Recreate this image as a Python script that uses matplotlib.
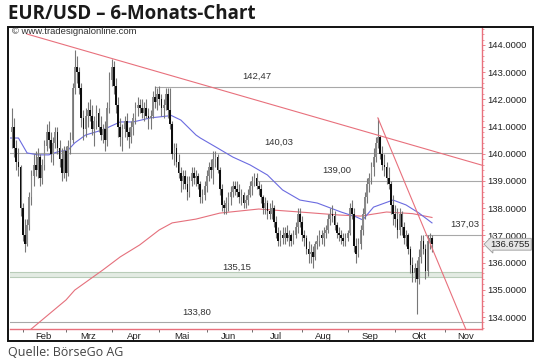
import matplotlib
matplotlib.use('Agg')
import matplotlib.pyplot as plt
import numpy as np
import pandas as pd
from matplotlib import font_manager
from matplotlib.patches import Rectangle

# ---------------- data ----------------
start_date, end_date = '2014-01-27', '2014-10-24'
axis_end = '2014-12-31'

open_ = [140.8, 141.0, 140.2, 139.7, 139.5,
         138.0, 137.0, 136.7, 137.4, 138.4, 139.2, 139.6, 139.4, 139.9, 139.1,
         139.6, 140.3, 140.8, 140.5, 140.0, 140.4, 140.8, 140.2, 139.8, 139.3,
         140.1, 139.3, 140.3, 140.5, 142.4, 143.2, 143.0, 142.4, 141.3, 140.9,
         141.4, 141.6, 141.4, 140.9, 141.2, 141.5, 141.0, 140.7, 140.9, 140.5, 141.7,
         142.7, 143.2, 142.5, 141.8, 141.0, 140.6, 140.9, 141.2, 140.8, 140.6, 141.0,
         141.3, 141.7, 141.8, 141.7, 141.5, 141.7, 141.4, 141.3, 141.4, 142.1, 141.9,
         142.2, 142.0, 141.7, 141.8, 142.2, 141.6, 141.1, 140.0, 140.2, 139.7, 139.3,
         139.0, 139.2, 138.9, 138.6, 139.0, 139.3, 139.1, 139.2, 138.9, 138.4, 138.5,
         138.8, 139.2, 139.5, 139.4, 139.8, 139.9, 139.4, 138.7, 138.1, 138.0, 138.2,
         138.4, 138.6, 138.8, 138.7, 138.6, 138.4, 138.5, 138.2, 138.3, 138.5,
         138.8, 139.0, 139.1, 138.8, 138.7, 138.4, 138.0, 138.2, 137.9, 137.8, 138.0,
         137.5, 137.1, 136.8, 137.0, 136.9, 137.1, 136.9, 137.0, 136.8, 137.0, 137.3,
         137.8, 137.5, 137.0, 136.9, 136.5, 136.3, 136.4, 136.2, 136.7, 136.8, 137.0,
         136.9, 137.1, 137.2, 137.6, 137.8, 137.7, 137.4, 137.1, 137.0, 136.9, 136.8,
         136.9, 137.1, 138.0, 137.8, 136.6, 136.3, 136.7, 137.2, 137.8, 138.4, 138.9,
         139.1, 139.5, 139.9, 140.4, 140.6, 140.0, 139.6, 139.5, 139.1, 138.9, 138.1,
         137.8, 137.6, 137.2, 137.8, 137.3, 136.9, 137.0, 136.5, 135.9, 135.6, 135.8,
         135.4, 136.2, 136.8, 136.5, 135.7, 136.8, 136.9]
high_ = [141.7, 141.3, 140.5, 140.2, 139.6,
         138.2, 137.6, 137.6, 138.6, 139.4, 140.0, 140.1, 140.2, 140.0, 139.8,
         140.5, 141.1, 141.2, 140.8, 140.6, 141.0, 141.0, 140.5, 140.2, 140.3,
         140.3, 140.5, 140.8, 142.6, 143.8, 143.6, 143.2, 142.6, 141.6, 141.7,
         141.9, 142.0, 141.8, 141.4, 141.8, 141.7, 141.4, 141.1, 141.2, 141.9, 143.0,
         143.5, 143.4, 142.8, 142.1, 141.3, 141.1, 141.4, 141.5, 141.0, 141.2, 141.5,
         141.9, 142.1, 142.0, 142.0, 141.9, 142.0, 141.7, 141.6, 142.3, 142.5, 142.4,
         142.5, 142.2, 142.0, 142.4, 142.4, 142.4, 141.2, 140.4, 140.4, 140.0, 139.5,
         139.4, 139.4, 139.2, 139.2, 139.5, 139.5, 139.4, 139.3, 139.0, 138.7, 139.0,
         139.4, 139.7, 139.8, 140.1, 140.1, 140.0, 139.5, 138.9, 138.3, 138.4, 138.6,
         138.8, 139.0, 139.0, 139.0, 138.9, 138.7, 138.6, 138.5, 138.7, 139.0,
         139.2, 139.3, 139.3, 139.0, 138.9, 138.5, 138.4, 138.3, 138.2, 138.3, 138.1,
         137.7, 137.3, 137.2, 137.3, 137.3, 137.4, 137.2, 137.1, 137.2, 137.5, 138.0,
         138.0, 137.7, 137.2, 137.0, 136.8, 136.7, 136.6, 136.8, 137.0, 137.2, 137.2,
         137.3, 137.4, 137.8, 138.0, 138.1, 137.9, 137.5, 137.3, 137.2, 137.1, 137.1,
         137.2, 138.2, 138.3, 138.0, 136.9, 136.9, 137.4, 138.0, 138.6, 139.1, 139.3,
         139.7, 140.2, 140.6, 141.3, 140.7, 140.3, 140.0, 139.7, 139.5, 139.0, 138.5,
         138.1, 138.0, 138.0, 137.9, 137.5, 137.2, 137.1, 136.6, 136.2, 136.0, 136.1,
         136.5, 137.0, 137.0, 136.7, 137.0, 137.1, 137.0]
low_ = [140.2, 139.9, 139.4, 139.2, 137.7,
        136.8, 136.4, 136.6, 137.2, 138.1, 138.8, 139.2, 139.1, 138.8, 138.9,
        139.4, 140.1, 140.2, 139.7, 139.6, 140.2, 140.0, 139.5, 139.0, 139.1,
        139.0, 139.2, 140.0, 140.4, 142.2, 142.6, 142.2, 141.0, 140.5, 140.6,
        141.0, 141.2, 140.7, 140.3, 140.9, 140.8, 140.5, 140.4, 140.1, 140.3, 141.5,
        142.5, 142.2, 141.5, 140.6, 140.3, 140.1, 140.6, 140.5, 140.2, 140.4, 140.7,
        141.1, 141.4, 141.5, 141.3, 141.2, 141.3, 140.9, 140.9, 141.3, 141.7, 141.6,
        141.8, 141.4, 141.3, 141.6, 141.3, 140.9, 139.8, 139.6, 139.5, 139.1, 138.6,
        138.7, 138.7, 138.3, 138.4, 138.8, 138.9, 138.8, 138.7, 138.2, 138.2, 138.3,
        138.6, 139.0, 139.1, 138.9, 139.5, 139.3, 138.5, 137.9, 137.8, 137.8, 137.9,
        138.1, 138.4, 138.5, 138.4, 138.2, 138.1, 138.0, 138.0, 138.1, 138.4,
        138.5, 138.8, 138.7, 138.5, 138.2, 137.8, 137.8, 137.6, 137.6, 137.6, 137.3,
        136.9, 136.6, 136.6, 136.7, 136.7, 136.8, 136.6, 136.6, 136.7, 136.9, 137.1,
        137.3, 136.8, 136.6, 136.3, 136.0, 136.0, 135.8, 136.1, 136.5, 136.6, 136.7,
        136.6, 136.9, 137.1, 137.4, 137.5, 137.2, 136.9, 136.8, 136.7, 136.6, 136.6,
        136.8, 137.0, 137.6, 136.4, 136.0, 136.2, 136.5, 137.0, 137.6, 138.2, 138.6,
        138.9, 139.2, 139.7, 140.2, 139.8, 139.4, 139.2, 138.9, 138.7, 137.8, 137.4,
        137.3, 136.9, 137.0, 137.0, 136.7, 136.6, 136.3, 135.6, 135.3, 135.3, 134.1,
        135.2, 136.0, 136.3, 135.4, 135.5, 136.5, 136.4]
close_ = [141.0, 140.2, 139.7, 139.5, 138.0,
          137.0, 136.7, 137.4, 138.4, 139.2, 139.6, 139.4, 139.9, 139.1, 139.6,
          140.3, 140.8, 140.5, 140.0, 140.4, 140.8, 140.2, 139.8, 139.3, 140.1,
          139.3, 140.3, 140.5, 142.4, 143.2, 143.0, 142.4, 141.3, 140.9, 141.4,
          141.6, 141.4, 140.9, 141.2, 141.5, 141.0, 140.7, 140.9, 140.5, 141.7, 142.7,
          143.2, 142.5, 141.8, 141.0, 140.6, 140.9, 141.2, 140.8, 140.6, 141.0, 141.3,
          141.7, 141.8, 141.7, 141.5, 141.7, 141.4, 141.3, 141.4, 142.1, 141.9, 142.2,
          142.0, 141.7, 141.8, 142.2, 141.6, 141.1, 140.0, 140.2, 139.7, 139.3, 139.0,
          139.2, 138.9, 138.6, 139.0, 139.3, 139.1, 139.2, 138.9, 138.4, 138.5, 138.8,
          139.2, 139.5, 139.4, 139.8, 139.9, 139.4, 138.7, 138.1, 138.0, 138.2, 138.4,
          138.6, 138.8, 138.7, 138.6, 138.4, 138.5, 138.2, 138.3, 138.5, 138.8,
          139.0, 139.1, 138.8, 138.7, 138.4, 138.0, 138.2, 137.9, 137.8, 138.0, 137.5,
          137.1, 136.8, 137.0, 136.9, 137.1, 136.9, 137.0, 136.8, 137.0, 137.3, 137.8,
          137.5, 137.0, 136.9, 136.5, 136.3, 136.4, 136.2, 136.7, 136.8, 137.0, 136.9,
          137.1, 137.2, 137.6, 137.8, 137.7, 137.4, 137.1, 137.0, 136.9, 136.8, 136.9,
          137.1, 138.0, 137.8, 136.6, 136.3, 136.7, 137.2, 137.8, 138.4, 138.9, 139.1,
          139.5, 139.9, 140.4, 140.6, 140.0, 139.6, 139.5, 139.1, 138.9, 138.1, 137.8,
          137.6, 137.2, 137.8, 137.3, 136.9, 137.0, 136.5, 135.9, 135.6, 135.8, 135.4,
          136.2, 136.8, 136.5, 135.7, 136.8, 136.9, 136.6755]

# moving averages (at bar positions)
blue_idx = [-2, 3, 7, 12, 17, 21, 26, 29, 34, 42, 45, 50, 56, 64, 72, 73, 78, 85,
            87, 95, 102, 110, 118, 125, 133, 141, 152, 159, 162, 167, 176, 182, 188, 194]
blue_val = [140.58, 140.58, 140.03, 139.96, 139.96, 140.07, 140.14, 140.40, 140.69,
            140.88, 140.99, 141.17, 141.17, 141.32, 141.39, 141.43, 141.24, 140.69,
            140.58, 140.21, 139.88, 139.59, 139.22, 138.67, 138.30, 138.19, 137.86,
            137.68, 137.57, 138.04, 138.30, 138.12, 137.82, 137.46]
red_idx = [8, 25, 29, 42, 50, 59, 68, 74, 85, 96, 114, 133, 151, 161, 173, 185, 194]
red_val = [133.50, 134.63, 134.99, 135.73, 136.21, 136.65, 137.20, 137.46, 137.60,
           137.82, 137.97, 137.86, 137.75, 137.71, 137.86, 137.80, 137.66]

# trend lines (end points)
trend1_idx, trend1_val = [7, 218], [144.40, 139.56]
trend2_idx, trend2_val = [169, 212], [141.32, 133.10]

# horizontal levels: value, start index, label, label index
levels = [142.47, 140.03, 139.00, 137.03, 133.80]
level_start = [66, -1, 113, 191, -1]
level_labels = ['142,47', '140,03', '139,00', '137,03', '133,80']
level_label_idx = [113, 123, 150, 209, 85.5]
band_low, band_high = 135.48, 135.66
band_label, band_label_idx = '135,15', 104

month_labels = ['Feb', 'Mrz', 'Apr', 'Mai', 'Jun', 'Jul', 'Aug', 'Sep', 'Okt', 'Nov']
y_ticks = [134, 135, 136, 137, 138, 139, 140, 141, 142, 143, 144]
last_price_text = '136.6755'

# ---------------- fonts ----------------
avail = {f.name for f in font_manager.fontManager.ttflist}
def pick(*names):
    for n in names:
        if n in avail:
            return n
    return 'DejaVu Sans'
title_font = pick('Open Sans', 'Lato', 'DejaVu Sans')
axis_font = pick('Liberation Sans', 'Arimo', 'DejaVu Sans')

# ---------------- figure ----------------
W, H = 540, 362
fig = plt.figure(figsize=(W / 100, H / 100), dpi=100)
fig.patch.set_facecolor('white')

L, R, T, B = 10, 482, 27, 329
ax = fig.add_axes([L / W, 1 - B / H, (R - L) / W, (B - T) / H])
ax.set_facecolor('white')
ax.set_xlim(-0.9, 217.1)
ax.set_ylim(133.56, 144.66)

pink = '#e8707c'
grey_line = '#a8a8a8'

# band
ax.axhspan(band_low, band_high, facecolor='#e3ebe3', edgecolor='none', zorder=1)
ax.axhline(band_low, color='#b9ccb9', lw=0.8, zorder=1)
ax.axhline(band_high, color='#b9ccb9', lw=0.8, zorder=1)
ax.annotate(band_label, xy=(band_label_idx, band_high), xytext=(0, 3.5),
            textcoords='offset points', ha='center', va='center',
            fontsize=6.8, color='#333333', family=axis_font)

# horizontal levels
for v, s, lab, li in zip(levels, level_start, level_labels, level_label_idx):
    ax.plot([s, 217.1], [v, v], color=grey_line, lw=0.8, zorder=1)
    ax.annotate(lab, xy=(li, v), xytext=(0, 7.5), textcoords='offset points',
                ha='center', va='center', fontsize=6.8, color='#333333',
                family=axis_font)

# moving averages
ax.plot(red_idx, red_val, color='#e5707c', lw=0.8, zorder=2)
ax.plot(blue_idx, blue_val, color='#6b6be0', lw=0.8, zorder=2)

# candles
idx = np.arange(len(close_))
ax.vlines(idx, low_, high_, color='#777777', lw=0.8, zorder=3)
for i, (o, c) in enumerate(zip(open_, close_)):
    lo, hi = min(o, c), max(o, c)
    col = '#0d0d0d' if c < o else '#8a8a8a'
    ax.add_patch(Rectangle((i - 0.38, lo), 0.76, max(hi - lo, 0.03),
                           facecolor=col, edgecolor='none', zorder=4))

# trend lines
ax.plot(trend1_idx, trend1_val, color=pink, lw=0.8, zorder=5)
ax.plot(trend2_idx, trend2_val, color=pink, lw=0.8, zorder=5)

# axes styling
for s in ['left', 'top']:
    ax.spines[s].set_visible(False)
ax.spines['right'].set_color(pink)
ax.spines['bottom'].set_color(pink)
ax.spines['right'].set_linewidth(1.0)
ax.spines['bottom'].set_linewidth(1.0)

ax.yaxis.tick_right()
ax.set_yticks(y_ticks)
ax.set_yticklabels([f'{v:.4f}' for v in y_ticks], family=axis_font,
                   fontsize=6.8, color='#222222')
ax.set_yticks(np.arange(133.6, 144.7, 0.2), minor=True)
ax.tick_params(axis='y', which='major', length=2.5, width=0.6, color=pink, pad=1.2)
ax.tick_params(axis='y', which='minor', length=1.2, width=0.5, color=pink)

axis_dates = pd.bdate_range(start_date, axis_end)
months = axis_dates.month
starts = [i for i in range(1, len(axis_dates)) if months[i] != months[i - 1]]
mids = [(starts[k] + starts[k + 1] - 1) / 2 for k in range(len(month_labels))]
ax.set_xticks(starts[:len(month_labels)])
ax.set_xticklabels([])
ax.set_xticks(mids, minor=True)
ax.set_xticklabels(month_labels, minor=True, family=axis_font, fontsize=6.8,
                   color='#222222')
ax.tick_params(axis='x', which='major', length=2, width=0.6, color='#555555')
ax.tick_params(axis='x', which='minor', length=0, pad=2.5)

# last price callout
ax.annotate(last_price_text, xy=(1.0, close_[-1]), xycoords=('axes fraction', 'data'),
            xytext=(6, 0), textcoords='offset points', ha='left', va='center',
            fontsize=6.8, color='#222222', family=axis_font,
            bbox=dict(boxstyle='larrow,pad=0.15', fc='#e6e6e6', ec='#999999', lw=0.6),
            annotation_clip=False)

# outer frame
fig.add_artist(Rectangle((8 / W, 1 - 341 / H), (533 - 8) / W, (341 - 27) / H,
                         transform=fig.transFigure, fill=False, ec='#111111', lw=1.4))

# watermark
fig.text(12 / W, 1 - 31.5 / H, '\u00a9 www.tradesignalonline.com', fontsize=6.8,
         color='#333333', family=axis_font, ha='left', va='center')

# title & source
fig.text(8 / W, 1 - 14 / H, 'EUR/USD \u2013 6-Monats-Chart', fontsize=13.5,
         fontweight='bold', color='#1a1a1a', family=title_font, ha='left', va='center')
fig.text(8 / W, 1 - 352 / H, 'Quelle: B\u00f6rseGo AG', fontsize=9,
         color='#444444', family=title_font, ha='left', va='center')

fig.savefig('out.png', dpi=100, facecolor='white')
